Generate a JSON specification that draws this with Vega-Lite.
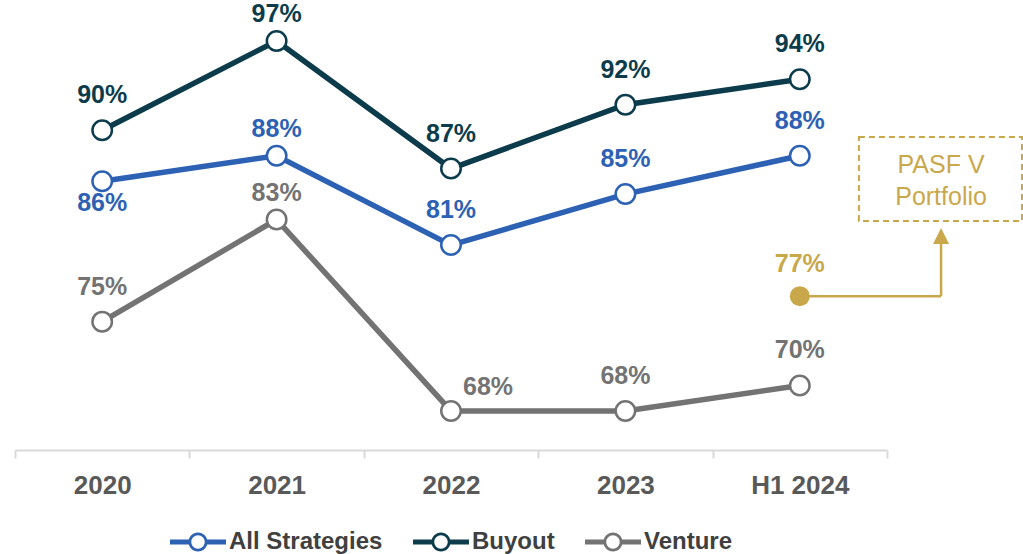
{
  "$schema": "https://vega.github.io/schema/vega-lite/v6.json",
  "width": 872,
  "height": 450,
  "autosize": {"type": "none"},
  "padding": {"left": 15, "top": 0, "right": 136, "bottom": 104},
  "background": "white",
  "config": {"view": {"stroke": null}, "font": "Liberation Sans"},
  "datasets": {
    "main": [
      {"year": "2020", "series": "All Strategies", "value": 0.86},
      {"year": "2021", "series": "All Strategies", "value": 0.88},
      {"year": "2022", "series": "All Strategies", "value": 0.81},
      {"year": "2023", "series": "All Strategies", "value": 0.85},
      {"year": "H1 2024", "series": "All Strategies", "value": 0.88},
      {"year": "2020", "series": "Buyout", "value": 0.90},
      {"year": "2021", "series": "Buyout", "value": 0.97},
      {"year": "2022", "series": "Buyout", "value": 0.87},
      {"year": "2023", "series": "Buyout", "value": 0.92},
      {"year": "H1 2024", "series": "Buyout", "value": 0.94},
      {"year": "2020", "series": "Venture", "value": 0.75},
      {"year": "2021", "series": "Venture", "value": 0.83},
      {"year": "2022", "series": "Venture", "value": 0.68},
      {"year": "2023", "series": "Venture", "value": 0.68},
      {"year": "H1 2024", "series": "Venture", "value": 0.70}
    ],
    "pasf": [
      {"year": "H1 2024", "series": "PASF V Portfolio", "value": 0.77}
    ]
  },
  "resolve": {"scale": {"x": "independent"}},
  "layer": [
    {
      "encoding": {
        "x": {
          "field": "year",
          "type": "ordinal",
          "scale": {"type": "band", "domain": ["2020", "2021", "2022", "2023", "H1 2024"], "paddingInner": 0, "paddingOuter": 0},
          "axis": {
            "title": null,
            "domainColor": "#d9d9d9",
            "domainWidth": 2,
            "tickColor": "#d9d9d9",
            "tickWidth": 2,
            "tickSize": 8,
            "tickBand": "extent",
            "labelFont": "Liberation Sans",
            "labelFontSize": 26,
            "labelFontWeight": "bold",
            "labelColor": "#595959",
            "labelPadding": 14,
            "labelAngle": 0,
            "grid": false
          }
        },
        "y": {
          "field": "value",
          "type": "quantitative",
          "scale": {"domain": [0.6494, 1.0021], "nice": false, "zero": false},
          "axis": null
        }
      },
      "layer": [
        {
          "data": {"name": "main"},
          "mark": {"type": "line", "strokeWidth": 5.5},
          "encoding": {
            "color": {
              "field": "series",
              "type": "nominal",
              "scale": {"domain": ["All Strategies", "Buyout", "Venture"], "range": ["#2d61b4", "#0c3c4c", "#737373"]},
              "legend": {
                "orient": "none",
                "legendX": 155,
                "legendY": 514,
                "direction": "horizontal",
                "title": null,
                "symbolType": "M-1,-0.09H-0.3V0.09H-1Z M0.3,-0.09H1V0.09H0.3Z M0.34,0A0.34,0.34,0,1,1,-0.34,0A0.34,0.34,0,1,1,0.34,0Z M0.24,0A0.24,0.24,0,1,0,-0.24,0A0.24,0.24,0,1,0,0.24,0Z",
                "symbolSize": 3136,
                "symbolStrokeWidth": 0,
                "labelFont": "Liberation Sans",
                "labelFontSize": 24,
                "labelFontWeight": "bold",
                "labelColor": "#404040",
                "labelOffset": 3,
                "columnPadding": 30,
                "encode": {
                  "symbols": {
                    "update": {
                      "fill": {"scale": "color", "field": "value"},
                      "fillOpacity": {"value": 1},
                      "stroke": {"value": "transparent"},
                      "opacity": {"value": 1}
                    }
                  }
                }
              }
            }
          }
        },
        {
          "data": {"name": "main"},
          "mark": {"type": "point", "shape": "circle", "filled": false, "fill": "white", "fillOpacity": 1, "opacity": 1, "size": 380, "strokeWidth": 2.5},
          "encoding": {
            "color": {"field": "series", "type": "nominal", "legend": null}
          }
        },
        {
          "data": {"name": "main"},
          "transform": [
            {"filter": "!(datum.year == '2021') && !(datum.series == 'All Strategies' && datum.year == '2020') && !(datum.series == 'Venture' && datum.year == '2022')"}
          ],
          "mark": {"type": "text", "font": "Liberation Sans", "fontSize": 25, "fontWeight": "bold", "baseline": "middle", "dy": -35},
          "encoding": {
            "text": {"field": "value", "type": "quantitative", "format": ".0%"},
            "color": {"field": "series", "type": "nominal", "legend": null}
          }
        },
        {
          "data": {"name": "main"},
          "transform": [{"filter": "datum.year == '2021'"}],
          "mark": {"type": "text", "font": "Liberation Sans", "fontSize": 25, "fontWeight": "bold", "baseline": "middle", "dy": -27},
          "encoding": {
            "text": {"field": "value", "type": "quantitative", "format": ".0%"},
            "color": {"field": "series", "type": "nominal", "legend": null}
          }
        },
        {
          "data": {"name": "main"},
          "transform": [{"filter": "datum.series == 'All Strategies' && datum.year == '2020'"}],
          "mark": {"type": "text", "font": "Liberation Sans", "fontSize": 25, "fontWeight": "bold", "baseline": "middle", "dy": 22},
          "encoding": {
            "text": {"field": "value", "type": "quantitative", "format": ".0%"},
            "color": {"field": "series", "type": "nominal", "legend": null}
          }
        },
        {
          "data": {"name": "main"},
          "transform": [{"filter": "datum.series == 'Venture' && datum.year == '2022'"}],
          "mark": {"type": "text", "font": "Liberation Sans", "fontSize": 25, "fontWeight": "bold", "baseline": "middle", "dx": 37, "dy": -24},
          "encoding": {
            "text": {"field": "value", "type": "quantitative", "format": ".0%"},
            "color": {"field": "series", "type": "nominal", "legend": null}
          }
        },
        {
          "data": {"name": "pasf"},
          "mark": {"type": "point", "shape": "circle", "filled": true, "color": "#c9a84c", "opacity": 1, "size": 400}
        },
        {
          "data": {"name": "pasf"},
          "mark": {"type": "text", "font": "Liberation Sans", "fontSize": 25, "fontWeight": "bold", "baseline": "middle", "dy": -32, "color": "#c9a84c"},
          "encoding": {
            "text": {"field": "value", "type": "quantitative", "format": ".0%"}
          }
        }
      ]
    },
    {
      "data": {"name": "pasf"},
      "layer": [
        {
          "mark": {"type": "rule", "color": "#c9a84c", "strokeWidth": 2.5},
          "encoding": {
            "x": {"datum": 4.5, "type": "quantitative", "scale": {"domain": [0, 5], "nice": false, "zero": false}, "axis": null},
            "x2": {"datum": 5.31},
            "y": {"field": "value", "type": "quantitative"}
          }
        },
        {
          "mark": {"type": "rule", "color": "#c9a84c", "strokeWidth": 2.5},
          "encoding": {
            "x": {"datum": 5.31, "type": "quantitative", "axis": null},
            "y": {"field": "value", "type": "quantitative"},
            "y2": {"datum": 0.8125}
          }
        },
        {
          "mark": {"type": "point", "shape": "M0,-1L1,1L-1,1Z", "filled": true, "color": "#c9a84c", "opacity": 1, "size": 256},
          "encoding": {
            "x": {"datum": 5.31, "type": "quantitative", "axis": null},
            "y": {"datum": 0.8172, "type": "quantitative"}
          }
        },
        {
          "mark": {"type": "rect", "fill": null, "fillOpacity": 0, "stroke": "#c9a84c", "strokeWidth": 2, "strokeDash": [6, 4]},
          "encoding": {
            "x": {"datum": 4.839, "type": "quantitative", "axis": null},
            "x2": {"datum": 5.774},
            "y": {"datum": 0.8947, "type": "quantitative"},
            "y2": {"datum": 0.8289}
          }
        },
        {
          "mark": {"type": "text", "font": "Liberation Sans", "fontSize": 25, "color": "#c9a84c", "baseline": "middle", "align": "center", "lineHeight": 32, "text": ["PASF V", "Portfolio"]},
          "encoding": {
            "x": {"datum": 5.31, "type": "quantitative", "axis": null},
            "y": {"datum": 0.8728, "type": "quantitative"}
          }
        }
      ]
    }
  ]
}
